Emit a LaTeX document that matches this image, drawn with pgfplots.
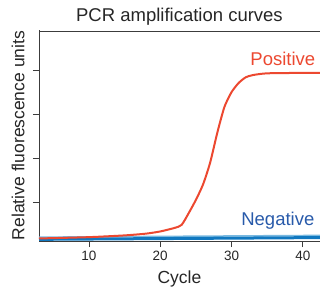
\documentclass[border=0pt]{standalone}
\usepackage{fontspec}
\setmainfont{Liberation Sans}
\usepackage{pgfplots}
\pgfplotsset{compat=1.18}
\definecolor{posred}{RGB}{236,72,48}
\definecolor{negblue}{RGB}{16,120,192}
\definecolor{neglight}{RGB}{120,185,225}
\definecolor{negtext}{RGB}{40,90,170}
\definecolor{axgray}{RGB}{60,60,60}
\begin{document}
\begin{tikzpicture}
\begin{axis}[
  x=7.13pt, y=43.8pt,
  xmin=3, xmax=42.4, ymin=0.112, ymax=4.93,
  axis lines=left,
  axis line style={-, axgray, line width=0.8pt},
  xtick={10,20,30,40},
  ytick={1,2,3,4},
  yticklabels={},
  tick align=outside,
  major tick length=6pt,
  tick style={axgray, line width=0.8pt},
  /pgf/number format/assume math mode=true,
  ticklabel style={font=\fontsize{13.5}{14}\selectfont, text=black!85},
  xticklabel style={yshift=-1pt},
  title={PCR amplification curves},
  title style={font=\fontsize{18.5}{20}\selectfont, text=black!85, at={(0.5,1)}, anchor=base, yshift=2pt},
  xlabel={Cycle},
  ylabel={Relative fluorescence units},
  label style={font=\fontsize{17.5}{19}\selectfont, text=black!85},
  xlabel style={at={(0.5,0)}, anchor=base, yshift=-42pt},
  ylabel style={at={(rel axis cs:0,0.5)}, anchor=center, rotate=0, yshift=21pt, xshift=0pt},
  clip=false,
]
\addplot[axgray, line width=1.2pt, forget plot] coordinates {(3,4.90) (42.4,4.90)};
\addplot[neglight, line width=1.5pt] coordinates {(3,0.20) (42.4,0.24)};
\addplot[negblue, line width=3pt] coordinates {(3,0.15) (42.4,0.19)};
\addplot[posred, line width=2pt, smooth, tension=0.4] coordinates {
(3,0.17) (10,0.20) (15,0.24) (18,0.28) (20,0.33) (22,0.41) (23,0.48) (24,0.75) (25,1.05) (26,1.40) (27,1.90) (28,2.58) (29,3.17) (30,3.51) (31,3.72) (32,3.85) (33,3.90) (35,3.94) (40,3.95) (42.4,3.95)};
\node[posred, anchor=base, font=\fontsize{18.5}{20}\selectfont] at (axis cs:37.2,4.11) {Positive};
\node[negtext, anchor=base, font=\fontsize{18.5}{20}\selectfont] at (axis cs:36.5,0.455) {Negative};
\coordinate (BL) at (rel axis cs:0,0);
\end{axis}
\pgfresetboundingbox
\path[use as bounding box] ([shift={(-39pt,-48pt)}]BL) rectangle ([shift={(281pt,241pt)}]BL);
\end{tikzpicture}
\end{document}
